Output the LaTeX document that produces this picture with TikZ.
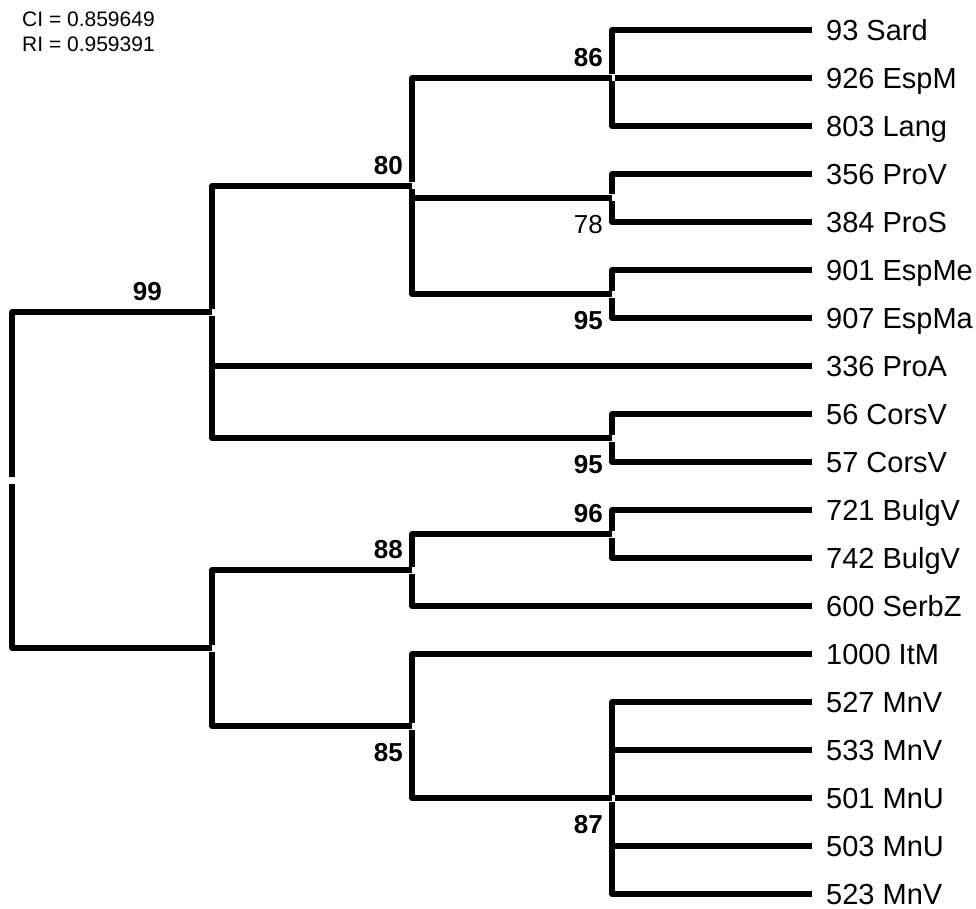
\documentclass[tikz,border=0pt]{standalone}
\usepackage{fontspec}
\setmainfont{Liberation Sans}

\tikzset{
  branch/.style={line width=5.2pt, line join=round},
  taxon/.style={anchor=base west, inner sep=0pt, xshift=14pt, yshift=-10.5pt, font=\fontsize{29}{31}\selectfont},
  boot/.style={inner sep=0pt, font=\fontsize{26}{28}\selectfont\bfseries},
  bootabove/.style={boot, anchor=south east, xshift=-9pt, yshift=11pt},
  bootbelow/.style={boot, anchor=north east, xshift=-9pt, yshift=-17pt},
  stats/.style={anchor=base west, inner sep=0pt, font=\fontsize{21}{25}\selectfont}
}

% bar of a clade, split at the node, with its top and bottom child
\newcommand{\clade}[3]{%
  \draw[branch] (#1) ++(0,-3.5) |- (#2);
  \draw[branch] (#1) ++(0,3.5) |- (#3);
}

\begin{document}
\begin{tikzpicture}[x=1pt, y=-1pt]
    \useasboundingbox (0,0) rectangle (976,909);
    \node[stats] (ci) at (22,27) {CI = 0.859649};
    \node[stats] (ri) at ([yshift=-25pt]ci.base west) {RI = 0.959391};
    % tips
    \foreach \name [count=\i] in {93 Sard, 926 EspM, 803 Lang, 356 ProV, 384 ProS,
        901 EspMe, 907 EspMa, 336 ProA, 56 CorsV, 57 CorsV, 721 BulgV, 742 BulgV,
        600 SerbZ, 1000 ItM, 527 MnV, 533 MnV, 501 MnU, 503 MnU, 523 MnV} {
        \coordinate (t\i) at (812,{30+48*(\i-1)});
        \node[taxon] (l\i) at (t\i) {\name};
    }
    % internal nodes
    \coordinate (root) at (12,480);
    \coordinate (n99) at (212,312);
    \coordinate (nbalk) at (212,648);
    \coordinate (n80) at (412,186);
    \coordinate (n88) at (412,570);
    \coordinate (n85) at (412,726);
    \coordinate (n86) at (612,78);
    \coordinate (n78) at (612,198);
    \coordinate (n95a) at (612,294);
    \coordinate (n95b) at (612,438);
    \coordinate (n96) at (612,534);
    \coordinate (n87) at (612,798);
    % branches
    \clade{n86}{t1}{t3}
    \draw[branch] (n86 |- t2) ++(2.5,0) -- (t2);
    \clade{n78}{t4}{t5}
    \clade{n95a}{t6}{t7}
    \clade{n80}{n86}{n95a}
    \draw[branch] (n80 |- n78) ++(2.5,0) -- (n78);
    \clade{n95b}{t9}{t10}
    \clade{n99}{n80}{n95b}
    \draw[branch] (n99 |- t8) ++(2.5,0) -- (t8);
    \clade{n96}{t11}{t12}
    \clade{n88}{n96}{t13}
    \clade{n87}{t15}{t19}
    \foreach \i in {16,17,18}
        \draw[branch] (n87 |- t\i) ++(2.5,0) -- (t\i);
    \clade{n85}{t14}{n87}
    \clade{nbalk}{n88}{n85}
    \clade{root}{n99}{nbalk}
    % bootstrap values
    \node[bootabove, xshift=-41pt] (b99) at (n99) {99};
    \node[bootabove] (b80) at (n80) {80};
    \node[bootabove] (b86) at (n86) {86};
    \node[bootbelow] (b78) at (n78) {\mdseries 78};
    \node[bootbelow] (b95a) at (n95a) {95};
    \node[bootbelow] (b95b) at (n95b) {95};
    \node[bootabove] (b96) at (n96) {96};
    \node[bootabove] (b88) at (n88) {88};
    \node[bootbelow] (b85) at (n85) {85};
    \node[bootbelow] (b87) at (n87) {87};
\end{tikzpicture}
\end{document}
